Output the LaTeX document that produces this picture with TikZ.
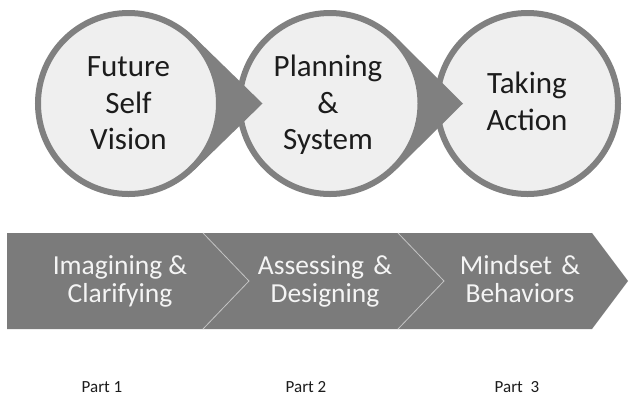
\documentclass[tikz,border=0pt]{standalone}
\usepackage{fontspec}
\setmainfont{Carlito}
\usetikzlibrary{calc}

\definecolor{rimgray}{HTML}{808080}
\definecolor{discfill}{HTML}{EFEFEF}
\definecolor{bandgray}{HTML}{7B7B7B}
\definecolor{bandtext}{HTML}{F4F4F4}
\definecolor{septone}{HTML}{C4C4C4}
\definecolor{inktext}{HTML}{1C1C1C}

\tikzset{
  disc/.style={circle, draw=rimgray, fill=discfill, line width=6bp,
    minimum size=181bp, inner sep=0pt},
  disctext/.style={align=center, text=inktext, anchor=south, inner sep=0pt,
    text depth=0pt, font=\fontsize{31bp}{36.5bp}\selectfont},
  pointer/.style={fill=rimgray},
  band/.style={fill=bandgray},
  sepline/.style={draw=septone, line width=0.8bp},
  bandlabel/.style={align=center, text=bandtext, anchor=south, inner sep=0pt,
    text depth=0pt, font=\fontsize{27.5bp}{28bp}\selectfont},
  partlabel/.style={text=inktext, anchor=south, inner sep=0pt, text depth=0pt,
    font=\fontsize{17bp}{20bp}\selectfont}
}

\begin{document}
\begin{tikzpicture}[x=1bp, y=-1bp]
  \useasboundingbox[fill=white] (0,0) rectangle (630,397);

  % centres of the three discs and the tips of their pointers
  \coordinate (p1) at (128.5,103.5);
  \coordinate (p2) at (330,103.5);
  \coordinate (p3) at (527.5,103.5);
  \coordinate (t1) at ($(p1)+(134,0)$);
  \coordinate (t2) at ($(p2)+(133,0)$);

  % drawn right to left so each pointer lies over the next disc
  \node[disc] (c3) at (p3) {};
  \fill[pointer] (p2) -- ($(p2)+(45.8:93.5)$) -- (t2) -- ($(p2)+(-45.8:93.5)$) -- cycle;
  \node[disc] (c2) at (p2) {};
  \fill[pointer] (p1) -- ($(p1)+(45.8:93.5)$) -- (t1) -- ($(p1)+(-45.8:93.5)$) -- cycle;
  \node[disc] (c1) at (p1) {};

  \node[disctext] (d1) at (128.5,150) {Future\\Self\\Vision};
  \node[disctext] (d2) at (328,150) {Planning\\\&\\System};
  \node[disctext] (d3) at (527,130.5) {Taking\\Action};

  % process band with chevron separators
  \fill[band] (7,233) -- (592,233) -- (628,281) -- (592,329) -- (7,329) -- cycle;
  \draw[sepline] (203,233) -- (249,281) -- (203,329);
  \draw[sepline] (398,233) -- (444,281) -- (398,329);

  \node[bandlabel] (b1) at (120,303) {Imagining \&\\Clarifying};
  \node[bandlabel] (b2) at (325,303) {Assessing\hspace{3bp} \&\\Designing};
  \node[bandlabel] (b3) at (520,303) {Mindset\hspace{3bp} \&\\Behaviors};

  \node[partlabel] (q1) at (102,392.5) {Part 1};
  \node[partlabel] (q2) at (306,392.5) {Part 2};
  \node[partlabel] (q3) at (517,392.5) {Part\hspace{4bp} 3};
\end{tikzpicture}
\end{document}
